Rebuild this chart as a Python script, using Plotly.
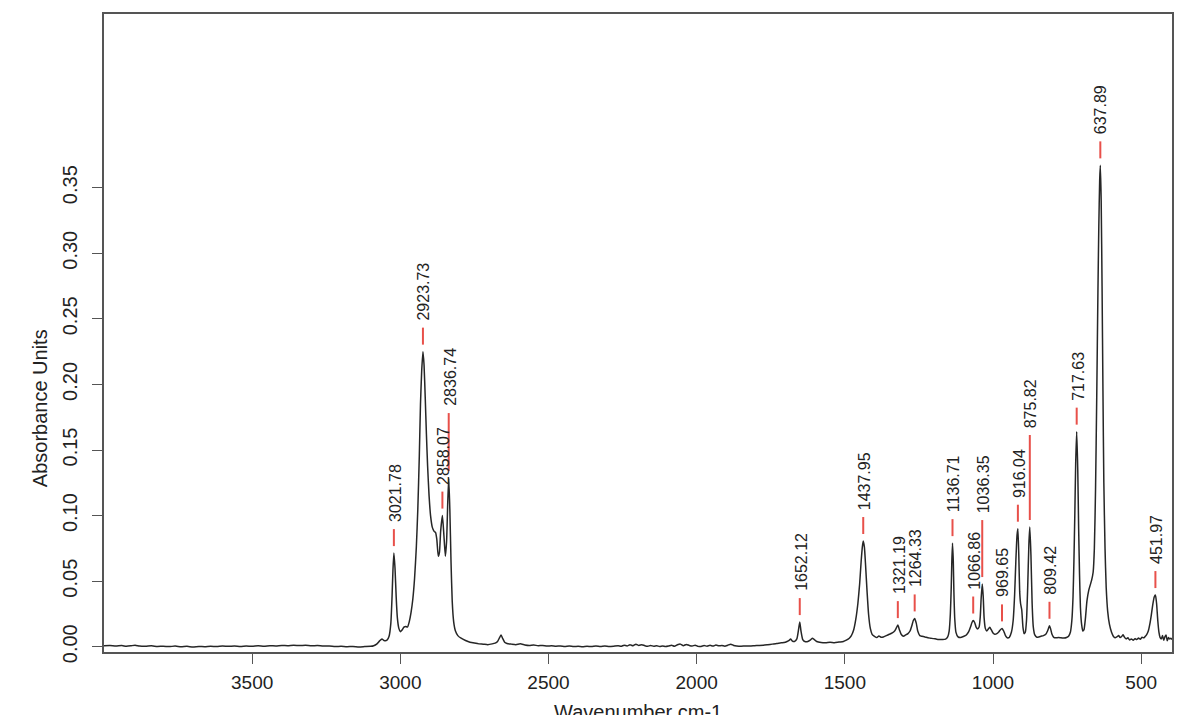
import plotly.graph_objects as go

# ---------------- data ----------------
wavenumber = [
    4000, 3980, 3960, 3940, 3925, 3910, 3895, 3880, 3860, 3840, 3820, 3800, 3780, 3760, 3740,
    3720, 3700, 3680, 3660, 3640, 3620, 3600, 3580, 3560, 3540, 3520, 3500, 3480, 3460, 3440,
    3420, 3400, 3380, 3360, 3340, 3320, 3300, 3280, 3260, 3240, 3220, 3200, 3180, 3160, 3140,
    3120, 3100, 3090, 3080, 3070, 3062, 3055, 3045, 3038, 3032, 3028, 3025, 3021.78, 3018, 3014,
    3010, 3005, 3000, 2995, 2988, 2982, 2976, 2970, 2964, 2958, 2952, 2946, 2941, 2936, 2932,
    2928, 2923.73, 2920, 2916, 2912, 2908, 2903, 2898, 2892, 2886, 2881, 2877, 2872, 2868, 2864,
    2858.07, 2853, 2848, 2844, 2840, 2836.74, 2833, 2829, 2825, 2820, 2814, 2806, 2795, 2780, 2765,
    2750, 2735, 2720, 2705, 2690, 2680, 2672, 2665, 2660, 2655, 2648, 2640, 2625, 2610, 2595,
    2580, 2565, 2550, 2535, 2520, 2505, 2490, 2475, 2460, 2445, 2430, 2415, 2400, 2385, 2370,
    2355, 2340, 2325, 2310, 2295, 2280, 2265, 2255, 2245, 2235, 2225, 2215, 2205, 2195, 2185,
    2175, 2165, 2155, 2145, 2135, 2125, 2115, 2105, 2095, 2085, 2075, 2065, 2055, 2045, 2035,
    2025, 2015, 2005, 1995, 1985, 1975, 1965, 1955, 1945, 1935, 1925, 1915, 1905, 1895, 1885,
    1875, 1865, 1850, 1835, 1820, 1805, 1790, 1775, 1760, 1745, 1730, 1715, 1705, 1695, 1688,
    1683, 1678, 1670, 1662, 1657, 1652.12, 1648, 1642, 1635, 1625, 1617, 1610, 1603, 1595, 1580,
    1565, 1550, 1535, 1520, 1505, 1495, 1485, 1478, 1470, 1463, 1456, 1450, 1445, 1441, 1437.95,
    1434, 1430, 1425, 1420, 1414, 1408, 1400, 1392, 1385, 1378, 1370, 1360, 1350, 1340, 1332,
    1327, 1321.19, 1316, 1310, 1302, 1295, 1287, 1280, 1274, 1269, 1264.33, 1259, 1254, 1247, 1240,
    1230, 1220, 1210, 1200, 1190, 1180, 1170, 1160, 1153, 1148, 1144, 1141, 1139, 1136.71, 1134,
    1132, 1129, 1125, 1118, 1110, 1100, 1090, 1082, 1076, 1071, 1066.86, 1062, 1057, 1052, 1047,
    1043, 1040, 1036.35, 1033, 1030, 1026, 1021, 1016, 1011, 1006, 1000, 994, 987, 980, 975,
    969.65, 964, 958, 952, 945, 938, 932, 927, 923, 919, 916.04, 913, 910, 907, 903,
    899, 895, 891, 887, 883, 879, 875.82, 872, 868, 864, 859, 852, 845, 838, 830,
    822, 816, 812, 809.42, 806, 801, 795, 788, 780, 770, 760, 752, 745, 739, 734,
    730, 727, 724, 721, 717.63, 714, 711, 708, 705, 701, 697, 693, 688, 683, 677,
    672, 667, 662, 658, 654, 650, 646, 643, 640, 637.89, 635, 632, 629, 626, 622,
    618, 613, 607, 600, 594, 588, 582, 576, 571, 566, 561, 557, 551, 545, 539,
    533, 527, 521, 515, 509, 503, 497, 491, 486, 481, 476, 471, 466, 461, 456,
    451.97, 448, 444, 440, 436, 432, 428, 424, 420, 416, 412, 408, 404, 400, 396,
]
absorbance = [
    0.0008, 0.0010, 0.0006, 0.0009, 0.0004, 0.0007, 0.0012, 0.0005, 0.0003, 0.0007, 0.0002, 0.0004, 0.0001, 0.0005, 0.0000,
    0.0003, -0.0002, 0.0002, 0.0000, 0.0004, 0.0001, 0.0005, 0.0003, 0.0006, 0.0002, 0.0005, 0.0003, 0.0007, 0.0004, 0.0008,
    0.0006, 0.0010, 0.0008, 0.0012, 0.0009, 0.0011, 0.0007, 0.0009, 0.0005, 0.0006, 0.0002, 0.0003, 0.0000, 0.0002, -0.0001,
    0.0001, 0.0003, 0.0008, 0.0020, 0.0045, 0.0060, 0.0048, 0.0050, 0.0080, 0.0180, 0.0380, 0.0580, 0.0714, 0.0600, 0.0380,
    0.0220, 0.0140, 0.0115, 0.0125, 0.0150, 0.0155, 0.0150, 0.0190, 0.0260, 0.0360, 0.0520, 0.0760, 0.1050, 0.1450, 0.1850,
    0.2100, 0.2250, 0.2150, 0.1900, 0.1620, 0.1380, 0.1150, 0.1000, 0.0910, 0.0880, 0.0870, 0.0820, 0.0690, 0.0720, 0.0880,
    0.1000, 0.0850, 0.0690, 0.0800, 0.1100, 0.1286, 0.1050, 0.0650, 0.0350, 0.0190, 0.0120, 0.0085, 0.0065, 0.0048, 0.0035,
    0.0028, 0.0022, 0.0020, 0.0016, 0.0022, 0.0028, 0.0040, 0.0070, 0.0090, 0.0065, 0.0035, 0.0025, 0.0020, 0.0016, 0.0022,
    0.0014, 0.0010, 0.0013, 0.0008, 0.0010, 0.0005, 0.0008, 0.0004, 0.0006, 0.0002, 0.0005, 0.0001, 0.0003, 0.0000, 0.0004,
    0.0001, 0.0006, 0.0002, 0.0005, 0.0001, 0.0004, 0.0008, 0.0003, 0.0012, 0.0006, 0.0015, 0.0007, 0.0020, 0.0010, 0.0016,
    0.0008, 0.0004, 0.0010, 0.0003, 0.0008, 0.0002, 0.0006, 0.0001, 0.0005, 0.0012, 0.0004, 0.0015, 0.0020, 0.0008, 0.0018,
    0.0010, 0.0006, 0.0012, 0.0003, 0.0002, 0.0009, 0.0004, 0.0011, 0.0005, 0.0013, 0.0007, 0.0010, 0.0004, 0.0012, 0.0020,
    0.0010, 0.0006, 0.0004, 0.0006, 0.0005, 0.0008, 0.0010, 0.0012, 0.0016, 0.0020, 0.0024, 0.0030, 0.0032, 0.0040, 0.0048,
    0.0060, 0.0045, 0.0040, 0.0060, 0.0120, 0.0188, 0.0120, 0.0055, 0.0040, 0.0040, 0.0050, 0.0065, 0.0055, 0.0040, 0.0032,
    0.0030, 0.0034, 0.0031, 0.0036, 0.0040, 0.0050, 0.0065, 0.0085, 0.0130, 0.0210, 0.0330, 0.0480, 0.0650, 0.0760, 0.0806,
    0.0760, 0.0620, 0.0420, 0.0250, 0.0140, 0.0095, 0.0080, 0.0070, 0.0082, 0.0072, 0.0075, 0.0085, 0.0095, 0.0105, 0.0120,
    0.0140, 0.0165, 0.0130, 0.0095, 0.0080, 0.0090, 0.0100, 0.0120, 0.0160, 0.0200, 0.0216, 0.0180, 0.0120, 0.0085, 0.0080,
    0.0075, 0.0068, 0.0065, 0.0062, 0.0058, 0.0056, 0.0055, 0.0058, 0.0075, 0.0120, 0.0250, 0.0450, 0.0650, 0.0790, 0.0650,
    0.0420, 0.0210, 0.0110, 0.0075, 0.0070, 0.0078, 0.0090, 0.0115, 0.0150, 0.0185, 0.0200, 0.0185, 0.0150, 0.0135, 0.0150,
    0.0230, 0.0370, 0.0478, 0.0380, 0.0220, 0.0140, 0.0120, 0.0135, 0.0148, 0.0130, 0.0105, 0.0095, 0.0100, 0.0115, 0.0130,
    0.0140, 0.0120, 0.0085, 0.0068, 0.0072, 0.0110, 0.0200, 0.0400, 0.0650, 0.0850, 0.0900, 0.0700, 0.0420, 0.0330, 0.0280,
    0.0150, 0.0100, 0.0110, 0.0200, 0.0450, 0.0780, 0.0913, 0.0700, 0.0330, 0.0150, 0.0090, 0.0072, 0.0075, 0.0080, 0.0085,
    0.0095, 0.0120, 0.0145, 0.0160, 0.0140, 0.0095, 0.0072, 0.0068, 0.0070, 0.0068, 0.0066, 0.0070, 0.0080, 0.0110, 0.0200,
    0.0380, 0.0650, 0.1000, 0.1400, 0.1640, 0.1350, 0.0900, 0.0550, 0.0300, 0.0170, 0.0120, 0.0130, 0.0220, 0.0350, 0.0430,
    0.0470, 0.0510, 0.0570, 0.0750, 0.1200, 0.1900, 0.2700, 0.3200, 0.3560, 0.3670, 0.3400, 0.2750, 0.1950, 0.1250, 0.0750,
    0.0450, 0.0270, 0.0170, 0.0110, 0.0080, 0.0068, 0.0075, 0.0085, 0.0070, 0.0078, 0.0092, 0.0075, 0.0060, 0.0068, 0.0052,
    0.0060, 0.0050, 0.0062, 0.0055, 0.0066, 0.0058, 0.0072, 0.0068, 0.0080, 0.0095, 0.0120, 0.0170, 0.0240, 0.0320, 0.0380,
    0.0394, 0.0330, 0.0200, 0.0110, 0.0070, 0.0060, 0.0085, 0.0050, 0.0075, 0.0090, 0.0045, 0.0070, 0.0060, 0.0065, 0.0055,
]

peak_wavenumbers = [3021.78, 2923.73, 2858.07, 2836.74, 1652.12, 1437.95, 1321.19, 1264.33, 1136.71,
                    1066.86, 1036.35, 969.65, 916.04, 875.82, 809.42, 717.63, 637.89, 451.97]
peak_absorbance = [0.0714, 0.2250, 0.1000, 0.1286, 0.0188, 0.0806, 0.0165, 0.0216, 0.0790,
                   0.0200, 0.0478, 0.0140, 0.0900, 0.0913, 0.0160, 0.1640, 0.3670, 0.0394]
peak_labels = ["%.2f" % w for w in peak_wavenumbers]

x_ticks = [3500, 3000, 2500, 2000, 1500, 1000, 500]
y_ticks = [0.00, 0.05, 0.10, 0.15, 0.20, 0.25, 0.30, 0.35]
y_tick_labels = ["%.2f" % v for v in y_ticks]

# ---------------- layout helpers (styling, pixels) ----------------
FONT = "Liberation Sans, Arial, Helvetica, sans-serif"
TEXT_COLOR = "#222222"
RED = "#e8504a"
GAP = 7         # px between peak and red tick
TICK_LEN = 17   # px length of red tick
TEXT_GAP = 7    # px between red tick and text
extra_lift = {2836.74: 41, 1036.35: 40, 875.82: 68}

fig = go.Figure()
fig.add_trace(go.Scatter(
    x=wavenumber, y=absorbance, mode="lines",
    line=dict(color="#262626", width=1.5, shape="spline", smoothing=0.5),
    hoverinfo="skip", showlegend=False,
))

shapes = []
annotations = []
for wn, ab, lab in zip(peak_wavenumbers, peak_absorbance, peak_labels):
    lift = extra_lift.get(wn, 0)
    shapes.append(dict(
        type="line", xref="x", yref="y", x0=wn, x1=wn,
        ysizemode="pixel", yanchor=ab, y0=GAP, y1=GAP + TICK_LEN + lift,
        line=dict(color=RED, width=2),
    ))
    annotations.append(dict(
        x=wn, y=ab, xref="x", yref="y", text=lab, showarrow=False,
        textangle=-90, xanchor="center", yanchor="bottom",
        yshift=GAP + TICK_LEN + TEXT_GAP + lift, xshift=1,
        borderpad=0, borderwidth=0,
        font=dict(family=FONT, size=16, color=TEXT_COLOR),
    ))

# axis titles as annotations (positions tuned to the reference)
annotations.append(dict(
    text="Wavenumber cm-1", xref="paper", yref="paper", x=0.5, y=-0.073,
    xanchor="center", yanchor="top", showarrow=False,
    font=dict(family=FONT, size=20, color=TEXT_COLOR),
))
annotations.append(dict(
    text="Absorbance Units", xref="paper", yref="paper", x=-0.06, y=0.382,
    xanchor="center", yanchor="middle", textangle=-90, showarrow=False,
    font=dict(family=FONT, size=20, color=TEXT_COLOR),
))

fig.update_layout(
    width=1200, height=715,
    margin=dict(l=104, r=28, t=14, b=63),
    paper_bgcolor="white", plot_bgcolor="white",
    shapes=shapes, annotations=annotations,
    showlegend=False,
    font=dict(family=FONT, color=TEXT_COLOR),
)
fig.update_xaxes(
    range=[4000, 396], tickvals=x_ticks, ticks="outside", ticklen=10, tickwidth=1.3,
    tickcolor="#555555", showline=True, linecolor="#555555", linewidth=1.5, mirror=True,
    showgrid=False, zeroline=False, tickfont=dict(family=FONT, size=19, color=TEXT_COLOR),
    ticklabelstandoff=2,
)
fig.update_yaxes(
    range=[-0.0040, 0.4824], tickvals=y_ticks, ticktext=y_tick_labels, ticks="outside",
    ticklen=10, tickwidth=1.3, tickcolor="#555555", showline=True, linecolor="#555555",
    linewidth=1.5, mirror=True, showgrid=False, zeroline=False, tickangle=-90,
    tickfont=dict(family=FONT, size=20, color=TEXT_COLOR), ticklabelstandoff=7,
)

fig.write_html("out.html")
